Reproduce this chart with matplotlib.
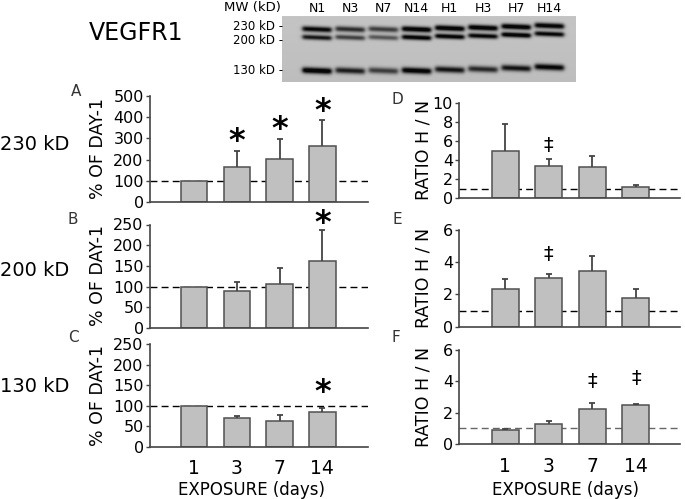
import numpy as np
import matplotlib
matplotlib.use("Agg")
import matplotlib.pyplot as plt
from matplotlib import font_manager
from matplotlib.transforms import ScaledTranslation

W, H = 685, 499

# ---- data ----
days = ["1", "3", "7", "14"]

pct_230 = [100, 166, 201, 264]
pct_230_err = [0, 73, 95, 123]
pct_200 = [100, 90, 107, 161]
pct_200_err = [0, 22, 39, 76]
pct_130 = [100, 71, 63, 84]
pct_130_err = [0, 4, 14, 10]

ratio_230 = [4.95, 3.41, 3.24, 1.21]
ratio_230_err = [2.79, 0.73, 1.15, 0.15]
ratio_200 = [2.32, 3.00, 3.48, 1.76]
ratio_200_err = [0.66, 0.29, 0.91, 0.56]
ratio_130 = [0.89, 1.30, 2.25, 2.49]
ratio_130_err = [0.09, 0.15, 0.39, 0.08]

# significance marks: (bar index, symbol, height in data units)
sig_A = [(1, "*", 325), (2, "*", 379), (3, "*", 467)]
sig_B = [(3, "*", 273)]
sig_C = [(3, "*", 152)]
sig_D = [(1, "\u2021", 5.5)]
sig_E = [(1, "\u2021", 4.45)]
sig_F = [(2, "\u2021", 3.98), (3, "\u2021", 4.19)]

# western blot: lanes and relative band darkness
lanes = ["N1", "N3", "N7", "N14", "H1", "H3", "H7", "H14"]
band_230 = [0.9, 0.7, 0.62, 1.0, 1.0, 1.0, 1.0, 0.95]
band_200 = [0.8, 0.6, 0.5, 0.95, 0.95, 0.9, 1.0, 0.9]
band_130 = [1.0, 0.75, 0.6, 0.95, 0.8, 0.7, 0.8, 0.9]
band_shift = [0, 0, 0, 0, -1, -1.5, -2.5, -3.5]
mw_labels = ["230 kD -", "200 kD -", "130 kD -"]

names = {f.name for f in font_manager.fontManager.ttflist}
narrow = "Liberation Sans Narrow" if "Liberation Sans Narrow" in names else "DejaVu Sans"

plt.rcParams["font.family"] = ["DejaVu Sans"]

fig = plt.figure(figsize=(W / 100, H / 100), dpi=100)
fig.patch.set_facecolor("white")


def box(l, t, r, b):
    return [l / W, 1 - b / H, (r - l) / W, (b - t) / H]


def px(x, y):
    return x / W, 1 - y / H


SPINE = "#444444"


def bar_panel(rect, vals, errs, ref, ylim, yticks, sigs, xlim,
              show_x, ref_color="black"):
    ax = fig.add_axes(rect)
    x = np.arange(len(vals))
    ax.axhline(ref, ls=(0, (5, 3)), color=ref_color, lw=1.0, zorder=1)
    ax.bar(x, vals, width=0.62, color="#c0c0c0", edgecolor="#505050",
           linewidth=1.1, zorder=2)
    for i in range(len(vals)):
        if errs[i] > 0:
            top = vals[i] + errs[i]
            ax.vlines(x[i], vals[i], top, color=SPINE, lw=1.3, zorder=3)
            ax.hlines(top, x[i] - 0.07, x[i] + 0.07, color=SPINE, lw=1.3,
                      zorder=3)
    for i, sym, yy in sigs:
        if sym == "*":
            ax.text(x[i], yy, sym, ha="center", va="center", fontsize=23,
                    fontweight="bold", zorder=4,
                    transform=ax.transData + ScaledTranslation(0, -6 / 72, fig.dpi_scale_trans))
        else:
            ax.text(x[i], yy, sym, ha="center", va="center", fontsize=14,
                    zorder=4)
    ax.set_xlim(*xlim)
    ax.set_ylim(*ylim)
    ax.set_yticks(yticks)
    ax.set_yticklabels([str(t) for t in yticks], fontsize=11.5)
    ax.tick_params(axis="y", direction="out", length=3, width=1,
                   color=SPINE, pad=1.5)
    ax.tick_params(axis="x", length=0, pad=9)
    ax.set_xticks(x)
    if show_x:
        ax.set_xticklabels(days, fontsize=13.5)
    else:
        ax.set_xticklabels([])
    for s in ["top", "right"]:
        ax.spines[s].set_visible(False)
    for s in ["left", "bottom"]:
        ax.spines[s].set_color(SPINE)
        ax.spines[s].set_linewidth(1.2)
    ax.patch.set_alpha(0)
    return ax


left_xlim = (-1.03, 4.07)
right_xlim = (-1.05, 4.01)

bar_panel(box(150, 96, 368, 202), pct_230, pct_230_err, 100, (0, 500),
          [0, 100, 200, 300, 400, 500], sig_A, left_xlim, False)
bar_panel(box(150, 224.5, 368, 328), pct_200, pct_200_err, 100, (0, 250),
          [0, 50, 100, 150, 200, 250], sig_B, left_xlim, False)
bar_panel(box(150, 344.3, 368, 446.7), pct_130, pct_130_err, 100, (0, 250),
          [0, 50, 100, 150, 200, 250], sig_C, left_xlim, True)

bar_panel(box(459.3, 102.7, 680, 198.3), ratio_230, ratio_230_err, 1, (0, 10),
          [0, 2, 4, 6, 8, 10], sig_D, right_xlim, False)
bar_panel(box(459.3, 230, 680, 326.7), ratio_200, ratio_200_err, 1, (0, 6),
          [0, 2, 4, 6], sig_E, right_xlim, False)
bar_panel(box(459.3, 350, 680, 444), ratio_130, ratio_130_err, 1, (0, 6),
          [0, 2, 4, 6], sig_F, right_xlim, True, ref_color="#666666")

# y labels
for yc in [148, 276, 395]:
    fig.text(*px(98, yc), "% OF DAY-1", rotation=90, ha="center",
             va="center", fontsize=12.5)
for yc in [150, 278, 397]:
    fig.text(*px(423, yc), "RATIO H / N", rotation=90, ha="center",
             va="center", fontsize=12.5)

# x labels
fig.text(*px(252, 490), "EXPOSURE (days)", ha="center", va="center", fontsize=12)
fig.text(*px(566, 490), "EXPOSURE (days)", ha="center", va="center", fontsize=12)

# panel letters
for letter, (lx, ly) in zip("ABCDEF", [(76, 92), (73, 219), (73, 337),
                                      (397, 99), (397, 220), (396, 338)]):
    fig.text(*px(lx, ly), letter, ha="center", va="center", fontsize=11,
             color="#333333")

# row labels
for lab, yc in zip(["230 kD", "200 kD", "130 kD"], [145, 270, 387]):
    fig.text(*px(0, yc), lab, ha="left", va="center", fontsize=14)

# ---- blot ----
bl, bt, br, bb = 282, 16, 576, 82
bw, bh = br - bl, bb - bt
bax = fig.add_axes(box(bl, bt, br, bb))
xs = np.arange(bw) + 0.5
ys = np.arange(bh) + 0.5
XX, YY = np.meshgrid(xs, ys)
img = np.full((bh, bw), 0.77)
img -= 0.03 * (YY / bh)
lane_x = [317 + 33.2 * i - bl for i in range(len(lanes))]
band_rows = [(band_230, 13.3, 2.0), (band_200, 21.5, 1.8), (band_130, 54.7, 2.2)]
for i, lx in enumerate(lane_x):
    hprof = 0.5 * (np.tanh((XX - (lx - 14.5)) / 2.2) - np.tanh((XX - (lx + 14.5)) / 2.2))
    for inten, yc, sig in band_rows:
        ycc = yc + band_shift[i] + 0.04 * (XX - lx)
        vprof = np.exp(-0.5 * ((YY - ycc) / sig) ** 2)
        img -= 0.85 * inten[i] * hprof * vprof
img = np.clip(img, 0.03, 1)
bax.imshow(img, cmap="gray", vmin=0, vmax=1, extent=(0, bw, bh, 0),
           aspect="auto", interpolation="bilinear")
bax.axis("off")

for i, lab in enumerate(lanes):
    fig.text(*px(bl + lane_x[i], 8), lab, ha="center", va="center", fontsize=9)
fig.text(*px(252, 8), "MW (kD)", ha="center", va="center", fontsize=9.5)
for lab, yc in zip(mw_labels, [27, 40.5, 71]):
    fig.text(*px(283, yc), lab, ha="right", va="center", fontsize=8.5)

fig.text(*px(136, 33), "VEGFR1", ha="center", va="center", fontsize=17,
         family=[narrow, "DejaVu Sans"])

fig.savefig("out.png", dpi=100)
